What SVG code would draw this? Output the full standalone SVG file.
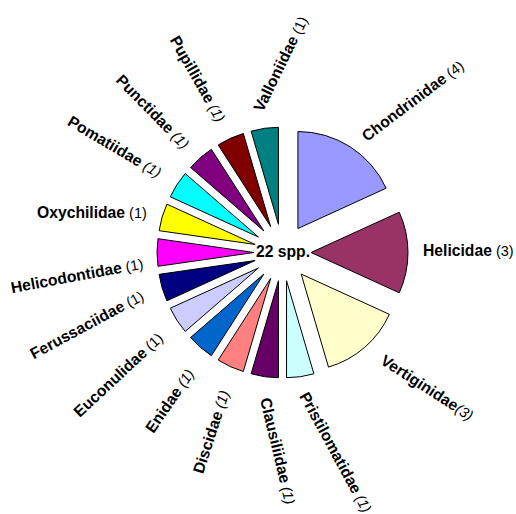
<svg xmlns="http://www.w3.org/2000/svg" width="516" height="514" viewBox="0 0 516 514">
<style>
.s{stroke:#000;stroke-width:1;stroke-linejoin:miter}
text{font-family:"Liberation Sans",Arial,sans-serif;fill:#000}
.n{font-weight:bold;font-size:15.7px}
.c{font-size:14.5px;font-weight:normal}
.i{font-style:italic}
</style>
<rect width="516" height="514" fill="#fff"/>
<g id="Chondrinidae">
<path class="s" fill="#9999FF" d="M297.91,228.52 L297.91,131.52 A97,97 0 0 1 386.14,188.22 Z"/>
<text transform="translate(413,101) rotate(-37)" text-anchor="middle" y="5"><tspan class="n">Chondrinidae</tspan><tspan class="c"> (4)</tspan></text>
</g>
<g id="Helicidae">
<path class="s" fill="#993366" d="M311,252.5 L399.23,212.2 A97,97 0 0 1 399.23,292.8 Z"/>
<text x="423" y="256"><tspan class="n">Helicidae</tspan><tspan class="c"> (3)</tspan></text>
</g>
<g id="Vertiginidae">
<path class="s" fill="#FFFFCC" d="M301.16,274.04 L389.39,314.34 A97,97 0 0 1 328.49,367.11 Z"/>
<text transform="translate(427,388) rotate(33)" text-anchor="middle" y="5"><tspan class="n">Vertiginidae</tspan><tspan class="c i">(3)</tspan></text>
</g>
<g id="Pristilomatidae">
<path class="s" fill="#CCFFFF" d="M286.56,280.71 L313.89,373.78 A97,97 0 0 1 286.56,377.71 Z"/>
<text transform="translate(335.5,452.5) rotate(61.5)" text-anchor="middle" y="5"><tspan class="n">Pristilomatidae</tspan><tspan class="c i"> (1)</tspan></text>
</g>
<g id="Clausiliidae">
<path class="s" fill="#660066" d="M278.44,280.71 L278.44,377.71 A97,97 0 0 1 251.11,373.78 Z"/>
<text transform="translate(277.5,451) rotate(76.5)" text-anchor="middle" y="5"><tspan class="n">Clausiliidae</tspan><tspan class="c i"> (1)</tspan></text>
</g>
<g id="Discidae">
<path class="s" fill="#FF8080" d="M270.66,278.42 L243.33,371.49 A97,97 0 0 1 218.22,360.02 Z"/>
<text transform="translate(211.5,432) rotate(-72)" text-anchor="middle" y="5"><tspan class="n">Discidae</tspan><tspan class="c i"> (1)</tspan></text>
</g>
<g id="Enidae">
<path class="s" fill="#0066CC" d="M263.84,274.04 L211.4,355.64 A97,97 0 0 1 190.53,337.56 Z"/>
<text transform="translate(170,401) rotate(-55.5)" text-anchor="middle" y="5"><tspan class="n">Enidae</tspan><tspan class="c i"> (1)</tspan></text>
</g>
<g id="Euconulidae">
<path class="s" fill="#CCCCFF" d="M258.52,267.91 L185.21,331.43 A97,97 0 0 1 170.29,308.21 Z"/>
<text transform="translate(118.5,375) rotate(-43)" text-anchor="middle" y="5"><tspan class="n">Euconulidae</tspan><tspan class="c"> (1)</tspan></text>
</g>
<g id="Ferussaciidae">
<path class="s" fill="#000080" d="M255.15,260.53 L166.92,300.83 A97,97 0 0 1 159.14,274.33 Z"/>
<text transform="translate(87,325) rotate(-28.4)" text-anchor="middle" y="5"><tspan class="n">Ferussaciidae</tspan><tspan class="c"> (1)</tspan></text>
</g>
<g id="Helicodontidae">
<path class="s" fill="#FF00FF" d="M254,252.5 L157.99,266.3 A97,97 0 0 1 157.99,238.7 Z"/>
<text transform="translate(77,276) rotate(-10.5)" text-anchor="middle" y="5"><tspan class="n">Helicodontidae</tspan><tspan class="c"> (1)</tspan></text>
</g>
<g id="Oxychilidae">
<path class="s" fill="#FFFF00" d="M255.15,244.47 L159.14,230.67 A97,97 0 0 1 166.92,204.17 Z"/>
<text x="37" y="218"><tspan class="n">Oxychilidae</tspan><tspan class="c"> (1)</tspan></text>
</g>
<g id="Pomatiidae">
<path class="s" fill="#00FFFF" d="M258.52,237.09 L170.29,196.79 A97,97 0 0 1 185.21,173.57 Z"/>
<text transform="translate(114.5,147) rotate(30.6)" text-anchor="middle" y="5"><tspan class="n">Pomatiidae</tspan><tspan class="c i"> (1)</tspan></text>
</g>
<g id="Punctidae">
<path class="s" fill="#800080" d="M263.84,230.96 L190.53,167.44 A97,97 0 0 1 211.4,149.36 Z"/>
<text transform="translate(152.5,112) rotate(45.5)" text-anchor="middle" y="5"><tspan class="n">Punctidae</tspan><tspan class="c i"> (1)</tspan></text>
</g>
<g id="Pupillidae">
<path class="s" fill="#800000" d="M270.66,226.58 L218.22,144.98 A97,97 0 0 1 243.33,133.51 Z"/>
<text transform="translate(197.5,79) rotate(60.3)" text-anchor="middle" y="5"><tspan class="n">Pupillidae</tspan><tspan class="c i"> (1)</tspan></text>
</g>
<g id="Valloniidae">
<path class="s" fill="#008080" d="M278.44,224.29 L251.11,131.22 A97,97 0 0 1 278.44,127.29 Z"/>
<text transform="translate(281,64) rotate(-64)" text-anchor="middle" y="5"><tspan class="n">Valloniidae</tspan><tspan class="c"> (1)</tspan></text>
</g>
<g id="total">
<text x="283" y="257" text-anchor="middle" class="n">22 spp.</text>
</g>
</svg>
